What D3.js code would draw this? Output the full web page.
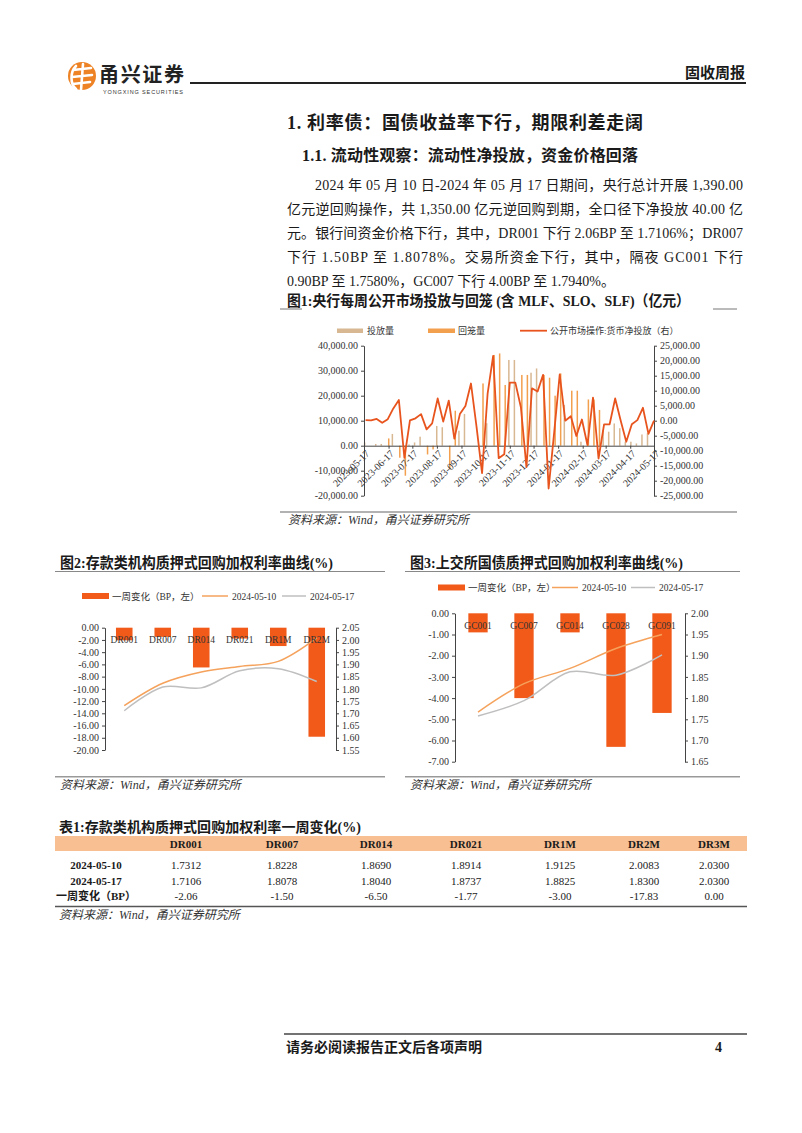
<!DOCTYPE html>
<html><head><meta charset="utf-8">
<script src="https://cdn.jsdelivr.net/npm/d3@7"></script>
<style>
body{margin:0;background:#fff;}
svg{display:block;}
</style></head>
<body>
<svg id="page" width="802" height="1133"></svg>
<script>
// ---------------- DATA ----------------
const lastWeek = "2024-05-17";
const fig1TickLabels = ["2023-05-17","2023-06-17","2023-07-17","2023-08-17","2023-09-17","2023-10-17","2023-11-17","2023-12-17","2024-01-17","2024-02-17","2024-03-17","2024-04-17","2024-05-17"];
const injection = [1300,0,700,700,0,4700,0,0,500,1300,3600,0,0,7900,7400,0,0,6000,12700,0,0,0,9000,0,0,0,34300,34300,0,0,29200,30900,0,0,0,0,16300,0,0,1600,0,0,0,6300,5600,8900,7000,1600,1600,900,4500,5000,0];
const withdrawal = [0,0,0,0,2900,0,-4800,-12000,0,0,0,-3500,-1500,0,0,-9500,14000,0,0,0,0,24900,0,36300,36900,24300,0,0,28300,28300,0,0,28300,27200,20000,28900,0,22000,22000,0,18500,18500,14300,0,0,0,0,0,0,0,0,0,0];
const netInjection = [200,100,600,-700,500,4100,6900,-12400,100,800,2200,-2900,-900,7400,-300,6700,-6000,2200,4900,12400,-2000,-17500,9000,21600,-12500,-11200,12700,12700,4500,-15500,10800,9700,15300,-22600,-4000,15400,0,1500,-5100,400,-8100,7700,-12600,-1200,-1200,7400,0,-7000,-1200,200,4300,-4400,0];
const fig1LeftTicks = [40000,30000,20000,10000,0,-10000,-20000];
const fig1RightTicks = [25000,20000,15000,10000,5000,0,-5000,-10000,-15000,-20000,-25000];

const drCats = ["DR001","DR007","DR014","DR021","DR1M","DR2M"];
const drChange = [-2.06,-1.50,-6.50,-1.77,-3.00,-17.83];
const dr0510 = [1.7312,1.8228,1.8690,1.8914,1.9125,2.0083];
const dr0517 = [1.7106,1.8078,1.8040,1.8737,1.8825,1.8300];
const drLeftTicks = [0,-2,-4,-6,-8,-10,-12,-14,-16,-18,-20];
const drRightTicks = [2.05,2.00,1.95,1.90,1.85,1.80,1.75,1.70,1.65,1.60,1.55];

const gcCats = ["GC001","GC007","GC014","GC028","GC091"];
const gcChange = [-0.90,-4.00,-0.90,-6.30,-4.70];
const gc0510 = [1.767,1.834,1.870,1.917,1.950];
const gc0517 = [1.758,1.794,1.862,1.854,1.902];
const gcLeftTicks = [0,-1,-2,-3,-4,-5,-6,-7];
const gcRightTicks = [2.00,1.95,1.90,1.85,1.80,1.75,1.70,1.65];

const tableCols = ["DR001","DR007","DR014","DR021","DR1M","DR2M","DR3M"];
const tableRowLabels = ["2024-05-10","2024-05-17","一周变化（BP）"];
const table0510 = ["1.7312","1.8228","1.8690","1.8914","1.9125","2.0083","2.0300"];
const table0517 = ["1.7106","1.8078","1.8040","1.8737","1.8825","1.8300","2.0300"];
const tableChange = ["-2.06","-1.50","-6.50","-1.77","-3.00","-17.83","0.00"];

// ---------------- STYLE ----------------
const SERIF = "'Liberation Serif','Noto Sans CJK SC',serif";
const INK = "#1a1a1a";
const C_BAR = "#F25A1A", C_L1 = "#F5A25C", C_L2 = "#BFBFBF";
const C_TAN = "#D8B893", C_ORG = "#F2A04E", C_NET = "#E8541E";

const svg = d3.select("#page");
function txt(g, x, y, s, size, opts={}) {
  const t = g.append("text").attr("x", x).attr("y", y).text(s)
    .attr("font-family", opts.family || SERIF).attr("font-size", size)
    .attr("fill", opts.fill || INK);
  if (opts.bold) t.attr("font-weight", "bold");
  if (opts.anchor) t.attr("text-anchor", opts.anchor);
  if (opts.italic) t.attr("font-style", "italic");
  if (opts.len) t.attr("textLength", opts.len).attr("lengthAdjust", opts.adj || "spacing");
  return t;
}
function hline(x1, x2, y, color, w) {
  svg.append("line").attr("x1", x1).attr("x2", x2).attr("y1", y).attr("y2", y)
    .attr("stroke", color).attr("stroke-width", w);
}
const fmtH = f => (d => f(d).replace("\u2212", "-"));

// ---------------- HEADER ----------------
const logo = svg.append("g");
logo.append("circle").attr("cx", 82).attr("cy", 76).attr("r", 14).attr("fill", "#EE8326");
logo.append("path").attr("d", "M73,70 L91,68 M72,77 L92,75 M73,84 L90,82 M83,64 L81,90 M76,66 C70,72 70,84 76,89")
  .attr("stroke", "#fff").attr("stroke-width", 2.6).attr("fill", "none").attr("stroke-linecap", "round");
txt(svg, 99, 82, "甬兴证券", 20, {family: "'Noto Sans CJK SC'", bold: true, fill: "#222", len: 85});
txt(svg, 103, 94, "YONGXING SECURITIES", 5.5, {family: "'Liberation Sans'", fill: "#333", len: 80});
hline(190, 746, 83, "#222", 2);
txt(svg, 745, 78, "固收周报", 15, {bold: true, anchor: "end"});

// ---------------- HEADINGS & PARAGRAPH ----------------
txt(svg, 287, 129, "1. 利率债：国债收益率下行，期限利差走阔", 18, {bold: true, len: 356});
txt(svg, 302, 161, "1.1. 流动性观察：流动性净投放，资金价格回落", 16, {bold: true, len: 336});
const paraLines = [
  ["2024 年 05 月 10 日-2024 年 05 月 17 日期间，央行总计开展 1,390.00", 315, true],
  ["亿元逆回购操作，共 1,350.00 亿元逆回购到期，全口径下净投放 40.00 亿", 287, true],
  ["元。银行间资金价格下行，其中，DR001 下行 2.06BP 至 1.7106%；DR007", 287, true],
  ["下行 1.50BP 至 1.8078%。交易所资金下行，其中，隔夜 GC001 下行", 287, true],
  ["0.90BP 至 1.7580%，GC007 下行 4.00BP 至 1.7940%。", 287, false]
];
paraLines.forEach((l, i) => {
  txt(svg, l[1], 190 + i * 24, l[0], 14, l[2] ? {len: 743 - l[1]} : {});
});

// ---------------- FIGURE 1 ----------------
txt(svg, 287, 306, "图1:央行每周公开市场投放与回笼 (含 MLF、SLO、SLF)（亿元）", 15, {bold: true, len: 403, adj: "spacingAndGlyphs"});
hline(280, 302, 309, "#777", 1);
hline(713, 737, 309, "#777", 1);
const f1 = svg.append("g");
const parse = d3.timeParse("%Y-%m-%d");
const endDate = parse(lastWeek);
const weeks = d3.range(netInjection.length).map(i => d3.timeDay.offset(endDate, -7 * (netInjection.length - 1 - i)));
const x1 = d3.scaleTime().domain([parse(fig1TickLabels[0]), parse(fig1TickLabels[fig1TickLabels.length - 1])]).range([364, 654]);
const yL1 = d3.scaleLinear().domain([-20000, 40000]).range([495.7, 345.7]);
const yR1 = d3.scaleLinear().domain([-25000, 25000]).range([495.7, 345.7]);

// legend
f1.append("rect").attr("x", 337).attr("y", 328.5).attr("width", 26).attr("height", 4.5).attr("fill", C_TAN);
txt(f1, 367, 334, "投放量", 9, {fill: "#333"});
f1.append("rect").attr("x", 428).attr("y", 328.5).attr("width", 27).attr("height", 4.5).attr("fill", C_ORG);
txt(f1, 458, 334, "回笼量", 9, {fill: "#333"});
f1.append("line").attr("x1", 520).attr("x2", 547).attr("y1", 330.7).attr("y2", 330.7).attr("stroke", C_NET).attr("stroke-width", 1.8);
txt(f1, 550, 334, "公开市场操作:货币净投放（右）", 9, {fill: "#333"});

// bars
f1.selectAll(".tan").data(injection).join("rect")
  .attr("x", (d, i) => x1(weeks[i]) - 1.7).attr("width", 1.5)
  .attr("y", d => Math.min(yL1(d), yL1(0))).attr("height", d => Math.abs(yL1(d) - yL1(0)))
  .attr("fill", C_TAN);
f1.selectAll(".org").data(withdrawal).join("rect")
  .attr("x", (d, i) => x1(weeks[i]) + 0.2).attr("width", 1.5)
  .attr("y", d => Math.min(yL1(d), yL1(0))).attr("height", d => Math.abs(yL1(d) - yL1(0)))
  .attr("fill", C_ORG);

// axes
const fmt1 = fmtH(d3.format(",.2f"));
const axL1 = f1.append("g").attr("transform", "translate(364,0)")
  .call(d3.axisLeft(yL1).tickValues(fig1LeftTicks).tickSize(3).tickSizeOuter(0).tickFormat(fmt1));
const axR1 = f1.append("g").attr("transform", "translate(654,0)")
  .call(d3.axisRight(yR1).tickValues(fig1RightTicks).tickSize(3).tickSizeOuter(0).tickFormat(fmt1));
const axX1 = f1.append("g").attr("transform", `translate(0,${yL1(0)})`)
  .call(d3.axisBottom(x1).tickValues(fig1TickLabels.map(parse)).tickSize(3).tickSizeOuter(0).tickFormat(d3.timeFormat("%Y-%m-%d")));
axX1.selectAll("text").attr("x", 0).attr("y", 0).attr("dy", "0.35em")
  .attr("text-anchor", "end").attr("transform", "translate(3,6) rotate(-45)");
[axL1, axR1, axX1].forEach(a => {
  a.selectAll("text").attr("font-family", SERIF).attr("font-size", 10).attr("fill", "#333");
  a.select(".domain").attr("stroke", "#444");
  a.selectAll(".tick line").attr("stroke", "#444");
});

// net line
f1.append("path").datum(netInjection)
  .attr("d", d3.line().x((d, i) => x1(weeks[i])).y(d => yR1(d)))
  .attr("fill", "none").attr("stroke", C_NET).attr("stroke-width", 1.8).attr("stroke-linejoin", "round");

hline(280, 737, 512, "#999", 1.5);
txt(svg, 288, 524, "资料来源：Wind，甬兴证券研究所", 12, {italic: true, fill: "#333"});

// ---------------- FIGURE 2 & 3 ----------------
function comboChart(o) {
  const g = svg.append("g");
  txt(g, o.titleX, 568, o.title, 15, {bold: true, len: 273, adj: "spacingAndGlyphs"});
  hline(o.frame[0], o.frame[1], 571.5, "#888", 1);
  // legend
  const ly = o.legendY;
  g.append("rect").attr("x", o.leg[0]).attr("y", ly - 3).attr("width", 27).attr("height", 6).attr("fill", C_BAR);
  txt(g, o.leg[0] + 30, ly + 3.5, "一周变化（BP，左）", 9.5, {fill: "#333"});
  g.append("line").attr("x1", o.leg[1]).attr("x2", o.leg[1] + 26).attr("y1", ly).attr("y2", ly).attr("stroke", C_L1).attr("stroke-width", 1.5);
  txt(g, o.leg[1] + 30, ly + 3.5, "2024-05-10", 9.5, {fill: "#333"});
  g.append("line").attr("x1", o.leg[2]).attr("x2", o.leg[2] + 24).attr("y1", ly).attr("y2", ly).attr("stroke", C_L2).attr("stroke-width", 1.5);
  txt(g, o.leg[2] + 28, ly + 3.5, "2024-05-17", 9.5, {fill: "#333"});

  const xb = d3.scaleBand().domain(o.cats).range([o.x0, o.x1]).paddingInner(o.pad).paddingOuter(o.pad / 2);
  const yl = d3.scaleLinear().domain(o.lDom).range([o.yB, o.yT]);
  const yr = d3.scaleLinear().domain(o.rDom).range([o.yB, o.yT]);
  g.selectAll(".bar").data(o.change).join("rect")
    .attr("x", (d, i) => xb(o.cats[i])).attr("width", xb.bandwidth())
    .attr("y", yl(0)).attr("height", d => yl(d) - yl(0)).attr("fill", C_BAR);
  const cx = i => xb(o.cats[i]) + xb.bandwidth() / 2;
  g.append("path").datum(o.l2)
    .attr("d", d3.line().x((d, i) => cx(i)).y(d => yr(d)).curve(d3.curveCatmullRom))
    .attr("fill", "none").attr("stroke", C_L2).attr("stroke-width", 1.5);
  g.append("path").datum(o.l1)
    .attr("d", d3.line().x((d, i) => cx(i)).y(d => yr(d)).curve(d3.curveCatmullRom))
    .attr("fill", "none").attr("stroke", C_L1).attr("stroke-width", 1.5);
  o.cats.forEach((c, i) => txt(g, cx(i), o.yT + o.catDy, c, 9.5, {anchor: "middle", fill: "#333"}));
  const fmt = fmtH(d3.format(".2f"));
  const aL = g.append("g").attr("transform", `translate(${o.x0},0)`)
    .call(d3.axisLeft(yl).tickValues(o.lTicks).tickSize(3).tickSizeOuter(0).tickFormat(fmt));
  const aR = g.append("g").attr("transform", `translate(${o.x1},0)`)
    .call(d3.axisRight(yr).tickValues(o.rTicks).tickSize(3).tickSizeOuter(0).tickFormat(fmt));
  [aL, aR].forEach(a => {
    a.selectAll("text").attr("font-family", SERIF).attr("font-size", 10).attr("fill", "#333");
    a.select(".domain").attr("stroke", "#444");
    a.selectAll(".tick line").attr("stroke", "#444");
  });
  hline(o.frame[0], o.frame[1], 776.7, "#999", 1.5);
  txt(svg, o.frame[0] + 5, 789, "资料来源：Wind，甬兴证券研究所", 12, {italic: true, fill: "#333"});
}
comboChart({title: "图2:存款类机构质押式回购加权利率曲线(%)", titleX: 60, frame: [55, 385],
  legendY: 596, leg: [82, 202, 282],
  cats: drCats, change: drChange, l1: dr0510, l2: dr0517,
  x0: 105, x1: 336, pad: 0.57, yT: 627.7, yB: 750, lDom: [-20, 0], rDom: [1.55, 2.05],
  lTicks: drLeftTicks, rTicks: drRightTicks, catDy: 15.5});
comboChart({title: "图3:上交所国债质押式回购加权利率曲线(%)", titleX: 410, frame: [405, 740],
  legendY: 587.5, leg: [438, 552, 631],
  cats: gcCats, change: gcChange, l1: gc0510, l2: gc0517,
  x0: 455, x1: 685, pad: 0.58, yT: 613.3, yB: 761.7, lDom: [-7, 0], rDom: [1.65, 2.00],
  lTicks: gcLeftTicks, rTicks: gcRightTicks, catDy: 15.5});

// ---------------- TABLE ----------------
txt(svg, 59, 832, "表1:存款类机构质押式回购加权利率一周变化(%)", 14, {bold: true, len: 302, adj: "spacingAndGlyphs"});
svg.append("rect").attr("x", 55).attr("y", 836).attr("width", 692).attr("height", 15).attr("fill", "#F7BF92");
const colX = [186, 282, 376, 466, 560, 644, 714];
tableCols.forEach((c, i) => txt(svg, colX[i], 848, c, 11, {anchor: "middle", bold: true}));
const rows = [table0510, table0517, tableChange];
rows.forEach((r, j) => {
  const y = 869 + j * 15.5;
  txt(svg, 96, y, tableRowLabels[j], 11, {anchor: "middle", bold: true});
  r.forEach((v, i) => txt(svg, colX[i], y, v, 11, {anchor: "middle"}));
});
hline(55, 747, 906.5, "#555", 1.5);
txt(svg, 59, 919, "资料来源：Wind，甬兴证券研究所", 12, {italic: true, fill: "#333"});

// ---------------- FOOTER ----------------
hline(284, 747, 1034, "#444", 1.5);
txt(svg, 286, 1052, "请务必阅读报告正文后各项声明", 14, {bold: true});
txt(svg, 722, 1052, "4", 14, {bold: true, anchor: "end"});
</script>
</body></html>
